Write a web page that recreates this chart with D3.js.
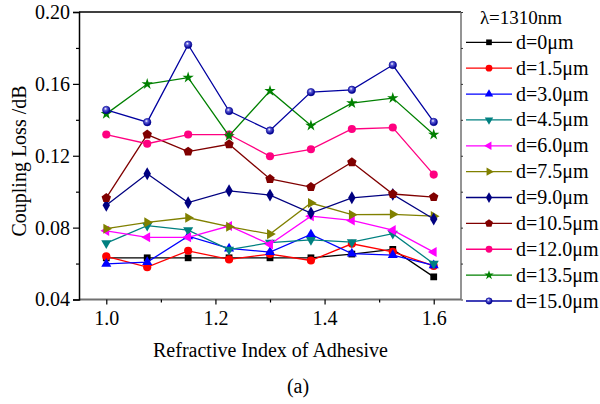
<!DOCTYPE html>
<html>
<head>
<meta charset="utf-8">
<script src="https://cdn.jsdelivr.net/npm/d3@7"></script>
<style>
  body { margin: 0; background: #fff; }
  svg text { font-family: "Liberation Serif", "Times New Roman", serif !important; fill: #000; }
</style>
</head>
<body>
<div class="chart"></div>
<script>
const WIDTH = 600;
const HEIGHT = 404;
const LEFT = 79, RIGHT = 461, TOP = 12, BOTTOM = 299.5;

// data
var indexValues = [1.0, 1.075, 1.15, 1.225, 1.3, 1.375, 1.45, 1.525, 1.6];
var d0    = [0.0632, 0.0632, 0.0632, 0.0632, 0.0632, 0.0632, 0.0653, 0.0679, 0.0526];
var d1_5  = [0.0640, 0.0580, 0.0671, 0.0623, 0.0653, 0.0617, 0.0710, 0.0665, 0.0587];
var d3_0  = [0.0598, 0.0608, 0.0752, 0.0684, 0.0664, 0.0762, 0.0655, 0.0647, 0.0590];
var d4_5  = [0.0714, 0.0811, 0.0786, 0.0678, 0.0716, 0.0732, 0.0719, 0.0766, 0.0599];
var d6_0  = [0.0782, 0.0746, 0.0746, 0.0809, 0.0707, 0.0864, 0.0840, 0.0786, 0.0664];
var d7_5  = [0.0794, 0.0829, 0.0855, 0.0805, 0.0764, 0.0937, 0.0872, 0.0874, 0.0864];
var d9_0  = [0.0924, 0.1100, 0.0939, 0.1005, 0.0981, 0.0881, 0.0966, 0.0985, 0.0848];
var d10_5 = [0.0965, 0.1318, 0.1223, 0.1264, 0.1071, 0.1026, 0.1164, 0.0987, 0.0970];
var d12_0 = [0.1318, 0.1267, 0.1318, 0.1318, 0.1197, 0.1236, 0.1349, 0.1357, 0.1095];
var d13_5 = [0.1433, 0.1599, 0.1635, 0.1310, 0.1561, 0.1368, 0.1493, 0.1521, 0.1318];
var d15_0 = [0.1455, 0.1387, 0.1818, 0.1449, 0.1340, 0.1554, 0.1567, 0.1705, 0.1388];

var seriesNames = ['d=0\u03bcm', 'd=1.5\u03bcm', 'd=3.0\u03bcm', 'd=4.5\u03bcm', 'd=6.0\u03bcm',
    'd=7.5\u03bcm', 'd=9.0\u03bcm', 'd=10.5\u03bcm', 'd=12.0\u03bcm', 'd=13.5\u03bcm', 'd=15.0\u03bcm'];
var seriesValues = [d0, d1_5, d3_0, d4_5, d6_0, d7_5, d9_0, d10_5, d12_0, d13_5, d15_0];

var xTicks = [1.0, 1.2, 1.4, 1.6];
var xMinorTicks = [1.1, 1.3, 1.5];
var yTicks = [0.04, 0.08, 0.12, 0.16, 0.20];
var yMinorTicks = [0.06, 0.10, 0.14, 0.18];

var colors = ['#000000', '#ff0000', '#0000ff', '#008080', '#ff00ff', '#808000',
    '#000080', '#800000', '#ff0080', '#008000', '#0000a0'];

var pentagon = {
    draw: function (context, size) {
        var r = Math.sqrt(size / 2.38);
        for (var i = 0; i < 5; i++) {
            var a = -Math.PI / 2 + i * 2 * Math.PI / 5;
            if (i === 0) context.moveTo(r * Math.cos(a), r * Math.sin(a));
            else context.lineTo(r * Math.cos(a), r * Math.sin(a));
        }
        context.closePath();
    }
};

// marker shape, rotation, size for each series
var markers = [
    [d3.symbolSquare, 0, 46],
    [d3.symbolCircle, 0, 52],
    [d3.symbolTriangle, 0, 44],
    [d3.symbolTriangle, 180, 44],
    [d3.symbolTriangle, -90, 44],
    [d3.symbolTriangle, 90, 44],
    [d3.symbolDiamond, 0, 48],
    [pentagon, 0, 58],
    [d3.symbolCircle, 0, 52],
    [d3.symbolStar, 0, 40],
    [d3.symbolCircle, 0, 44]
];

var xScale = d3.scaleLinear().domain([0.95, 1.65]).range([LEFT, RIGHT]);
var yScale = d3.scaleLinear().domain([0.04, 0.20]).range([BOTTOM, TOP]);

var svg = d3.select('.chart').append('svg')
    .attr('width', WIDTH)
    .attr('height', HEIGHT);

var defs = svg.append('defs');
var grad = defs.append('radialGradient').attr('id', 'ball')
    .attr('cx', '40%').attr('cy', '35%').attr('r', '60%');
grad.append('stop').attr('offset', '0%').attr('stop-color', '#ffffff');
grad.append('stop').attr('offset', '35%').attr('stop-color', '#5a5ad8');
grad.append('stop').attr('offset', '100%').attr('stop-color', '#000090');

function fillFor(i) {
    return i === 10 ? 'url(#ball)' : colors[i];
}

function drawAxes() {
    var gray = '#707070';
    // frame
    svg.append('line').attr('x1', LEFT).attr('x2', RIGHT).attr('y1', TOP).attr('y2', TOP)
        .attr('stroke', '#000').attr('stroke-width', 1.5);
    svg.append('line').attr('x1', RIGHT).attr('x2', RIGHT).attr('y1', TOP).attr('y2', BOTTOM)
        .attr('stroke', gray).attr('stroke-width', 1.5);
    svg.append('line').attr('x1', LEFT).attr('x2', RIGHT).attr('y1', BOTTOM).attr('y2', BOTTOM)
        .attr('stroke', gray).attr('stroke-width', 2);

    var xAxis = d3.axisBottom(xScale).tickValues(xTicks).tickSize(5).tickPadding(6)
        .tickFormat(d3.format('.1f'));
    var xg = svg.append('g').attr('transform', 'translate(0,' + BOTTOM + ')').call(xAxis);
    xg.select('.domain').remove();
    xg.selectAll('line').attr('stroke', '#000').attr('stroke-width', 1.2);
    xg.selectAll('text').attr('font-size', 20);
    var xmg = svg.append('g').attr('transform', 'translate(0,' + BOTTOM + ')')
        .call(d3.axisBottom(xScale).tickValues(xMinorTicks).tickSize(3).tickFormat(''));
    xmg.select('.domain').remove();
    xmg.selectAll('line').attr('stroke', '#000').attr('stroke-width', 1.2);

    var yAxis = d3.axisLeft(yScale).tickValues(yTicks).tickSize(6).tickPadding(3)
        .tickFormat(d3.format('.2f'));
    var yg = svg.append('g').attr('transform', 'translate(' + LEFT + ',0)').call(yAxis);
    yg.select('.domain').attr('stroke', '#000').attr('stroke-width', 1.5);
    yg.selectAll('line').attr('stroke', '#000').attr('stroke-width', 1.2);
    yg.selectAll('text').attr('font-size', 20);
    var ymg = svg.append('g').attr('transform', 'translate(' + LEFT + ',0)')
        .call(d3.axisLeft(yScale).tickValues(yMinorTicks).tickSize(3).tickFormat(''));
    ymg.select('.domain').remove();
    ymg.selectAll('line').attr('stroke', '#000').attr('stroke-width', 1.2);

    // small ticks on the right edge
    var rg = svg.append('g').attr('transform', 'translate(' + RIGHT + ',0)')
        .call(d3.axisRight(yScale).tickValues(yTicks.concat(yMinorTicks)).tickSize(2).tickFormat(''));
    rg.select('.domain').remove();
    rg.selectAll('line').attr('stroke', '#333').attr('stroke-width', 1);

    svg.append('text')
        .attr('x', (LEFT + RIGHT) / 2 + 0.5)
        .attr('y', 357)
        .attr('text-anchor', 'middle')
        .attr('font-size', 20)
        .text('Refractive Index of Adhesive');

    svg.append('text')
        .attr('transform', 'translate(26,161) rotate(-90)')
        .attr('text-anchor', 'middle')
        .attr('font-size', 20)
        .text('Coupling Loss /dB');

    svg.append('text')
        .attr('x', 298)
        .attr('y', 393)
        .attr('text-anchor', 'middle')
        .attr('font-size', 20)
        .text('(a)');
}

var line = d3.line()
    .x(function (d, i) { return xScale(indexValues[i]); })
    .y(function (d) { return yScale(d); });

function drawSeries() {
    seriesValues.forEach(function (vals, i) {
        var g = svg.append('g');
        g.append('path')
            .attr('d', line(vals))
            .attr('fill', 'none')
            .attr('stroke', colors[i])
            .attr('stroke-width', 1.3);
        var sym = d3.symbol().type(markers[i][0]).size(markers[i][2]);
        g.selectAll('path.m').data(vals).enter().append('path')
            .attr('class', 'm')
            .attr('d', sym)
            .attr('transform', function (d, j) {
                return 'translate(' + xScale(indexValues[j]) + ',' + yScale(d) + ') rotate(' + markers[i][1] + ')';
            })
            .attr('fill', fillFor(i))
            .attr('stroke', i === 10 ? '#000090' : 'none')
            .attr('stroke-width', 0.6);
    });
}

function drawLegend() {
    var lx1 = 466, lx2 = 512, mx = 489, tx = 516;
    var y0 = 42.3, step = 25.87;
    svg.append('text')
        .attr('x', 521)
        .attr('y', 24)
        .attr('text-anchor', 'middle')
        .attr('font-size', 19)
        .text('\u03bb=1310nm');
    seriesNames.forEach(function (name, i) {
        var y = y0 + i * step;
        var g = svg.append('g');
        g.append('line').attr('x1', lx1).attr('x2', lx2).attr('y1', y).attr('y2', y)
            .attr('stroke', colors[i]).attr('stroke-width', 1.3);
        var sym = d3.symbol().type(markers[i][0]).size(markers[i][2] * 0.7);
        g.append('path').attr('d', sym)
            .attr('transform', 'translate(' + mx + ',' + y + ') rotate(' + markers[i][1] + ')')
            .attr('fill', fillFor(i))
            .attr('stroke', i === 10 ? '#000090' : 'none')
            .attr('stroke-width', 0.6);
        g.append('text').attr('x', tx).attr('y', y + 6.5)
            .attr('font-size', 20)
            .text(name);
    });
}

drawAxes();
drawSeries();
drawLegend();
</script>
</body>
</html>
